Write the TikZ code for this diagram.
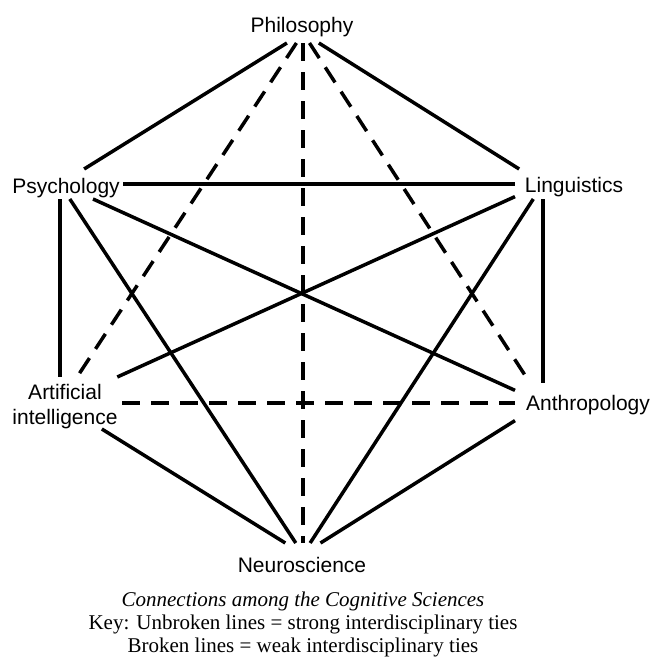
\documentclass[tikz,border=0pt]{standalone}
\usepackage{fontspec}
\setmainfont{Liberation Serif}
\newfontfamily\labfont{Liberation Sans}
\begin{document}
\begin{tikzpicture}[x=1pt,y=-1pt,
		strong/.style={line width=3.5pt},
		weak/.style={line width=3.5pt, dash pattern=on 18pt off 11pt},
		hub/.style args={#1 by #2}{minimum width=#1pt, minimum height=#2pt, inner sep=0pt, outer sep=0pt},
		disc/.style={font=\labfont\fontsize{21}{25}\selectfont, inner sep=0pt, anchor=base, align=center}]
		\useasboundingbox (0,0) rectangle (651,659);
		
		% where the lines meet each field
		\node[hub=60 by 20] (phil) at (303,33) {};
		\node[hub=126 by 30] (psy) at (60,184) {};
		\node[hub=56 by 30] (ling) at (543,184) {};
		\node[hub=124 by 52] (ai) at (60,403) {};
		\node[hub=56 by 40] (anth) at (543,403) {};
		\node[hub=60 by 22] (neuro) at (303,554) {};
		
		\node[disc] (phil-t) at (302,32) {Philosophy};
		\node[disc] (psy-t) at (66,193) {Psychology};
		\node[disc] (ling-t) at (574,192) {Linguistics};
		\node[disc, anchor=center] (ai-t) at (65,407) {Artificial\\intelligence};
		\node[disc] (anth-t) at (588,410) {Anthropology};
		\node[disc] (neuro-t) at (302,572) {Neuroscience};
		
		\draw[strong] (phil) -- (psy);
		\draw[strong] (phil) -- (ling);
		\draw[weak] (phil) -- (ai);
		\draw[weak] (phil) -- (anth);
		\draw[weak] (phil) -- (neuro);
		\draw[strong] (psy) -- (ling);
		\draw[strong] (psy) -- (ai);
		\draw[strong] (psy) -- (anth);
		\draw[strong] (psy) -- (neuro);
		\draw[strong] (ling) -- (ai);
		\draw[strong] (ling) -- (anth);
		\draw[strong] (ling) -- (neuro);
		\draw[weak] (ai) -- (anth);
		\draw[strong] (ai) -- (neuro);
		\draw[strong] (anth) -- (neuro);
		
		\node[font=\fontsize{21}{23}\selectfont, align=center, anchor=north, inner sep=0pt] (key) at (303,591.5)
			{\textit{Connections among the Cognitive Sciences}\\
			Key: Unbroken lines = strong interdisciplinary ties\\
			Broken lines = weak interdisciplinary ties};
	\end{tikzpicture}
\end{document}
